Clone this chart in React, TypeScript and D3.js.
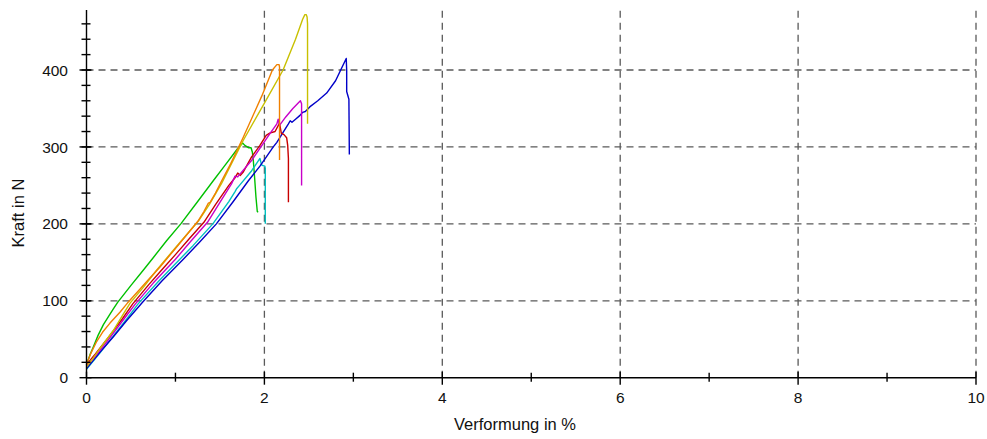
import * as d3 from 'd3';
import React from 'react';

type Pt = [number, number];

// Verformung in % / Kraft in N
const greenCurve: Pt[] = [
  [0, 17], [0.04, 30], [0.08, 41], [0.13, 55], [0.19, 69], [0.25, 80], [0.3, 89],
  [0.35, 98], [0.5, 120], [0.64, 140], [0.75, 156], [0.9, 178], [1.06, 200],
  [1.25, 229], [1.425, 256], [1.55, 275], [1.7, 298], [1.755, 305], [1.78, 302],
  [1.82, 299], [1.85, 299], [1.865, 293], [1.875, 283], [1.89, 260], [1.905, 235],
  [1.92, 216], [1.93, 215],
];
const orangeCurve: Pt[] = [
  [0, 17], [0.05, 32], [0.114, 47], [0.18, 59], [0.264, 71], [0.376, 85], [0.46, 97],
  [0.6, 115], [0.7, 128], [0.826, 144], [1.0, 168], [1.25, 203], [1.32, 216],
  [1.37, 227], [1.39, 228], [1.45, 240], [1.52, 256], [1.62, 278], [1.76, 312],
  [1.97, 366], [2.09, 400], [2.14, 407], [2.165, 407], [2.17, 404], [2.17, 283],
];
const yellowCurve: Pt[] = [
  [0, 14], [0.08, 26], [0.152, 38], [0.3, 61], [0.41, 82], [0.49, 97], [0.65, 119],
  [0.79, 140], [1.0, 169], [1.26, 204], [1.38, 225], [1.52, 253], [1.76, 308],
  [2.005, 358], [2.21, 400], [2.35, 440], [2.43, 466], [2.455, 472], [2.47, 472],
  [2.48, 469], [2.485, 460], [2.485, 330],
];
const redCurve: Pt[] = [
  [0, 17], [0.1, 31], [0.25, 53], [0.4, 76], [0.52, 96], [0.7, 121], [0.86, 142],
  [1.0, 160], [1.15, 180], [1.32, 202], [1.45, 225], [1.6, 250], [1.67, 260],
  [1.7, 266], [1.73, 263], [1.76, 267], [1.856, 287], [1.95, 302], [2.02, 315],
  [2.06, 318], [2.12, 320], [2.17, 331], [2.19, 318], [2.22, 316], [2.25, 312],
  [2.262, 302], [2.27, 285], [2.27, 228],
];
const magentaCurve: Pt[] = [
  [0, 15], [0.1, 28], [0.25, 50], [0.4, 73], [0.55, 96], [0.75, 123], [0.91, 143],
  [1.0, 154], [1.17, 177], [1.36, 202], [1.5, 228], [1.63, 252], [1.67, 262],
  [1.7, 261], [1.72, 264], [1.86, 283], [2.06, 317], [2.14, 330], [2.155, 336],
  [2.17, 328], [2.24, 339], [2.32, 350], [2.38, 357], [2.405, 360], [2.418, 356],
  [2.418, 250],
];
const cyanCurve: Pt[] = [
  [0, 11], [0.15, 32], [0.3, 54], [0.45, 76], [0.58, 96], [0.8, 124], [1.0, 148],
  [1.2, 172], [1.42, 200], [1.6, 229], [1.67, 242], [1.69, 246], [1.72, 250],
  [1.85, 268], [1.95, 285], [1.965, 278], [1.975, 276], [2.005, 275], [2.01, 272],
  [2.01, 200],
];
const blueCurve: Pt[] = [
  [0, 12], [0.15, 33], [0.3, 53], [0.45, 74], [0.63, 98], [0.85, 126], [1.08, 153],
  [1.27, 176], [1.46, 200], [1.65, 229], [1.82, 256], [1.95, 275], [2.1, 300],
  [2.14, 306], [2.21, 319], [2.27, 330], [2.29, 334], [2.31, 332], [2.35, 336],
  [2.4, 341], [2.43, 345], [2.46, 346], [2.51, 352], [2.6, 360], [2.7, 370],
  [2.8, 386], [2.92, 415], [2.925, 400], [2.925, 372], [2.95, 362], [2.955, 290],
];

const series = [
  { name: 'green', color: '#00c000', data: greenCurve },
  { name: 'cyan', color: '#00c0c0', data: cyanCurve },
  { name: 'blue', color: '#0000c8', data: blueCurve },
  { name: 'red', color: '#c80000', data: redCurve },
  { name: 'magenta', color: '#c800c8', data: magentaCurve },
  { name: 'yellow', color: '#c8c000', data: yellowCurve },
  { name: 'orange', color: '#f08000', data: orangeCurve },
];

const xTicks = [0, 1, 2, 3, 4, 5, 6, 7, 8, 9, 10];
const xLabels = [0, 2, 4, 6, 8, 10];
const yLabels = [0, 100, 200, 300, 400];
const yMinor = d3.range(20, 480, 20);

const W = 987;
const H = 439;
const FONT = 'Arial, "Liberation Sans", sans-serif';

const App = () => {
  const x = d3.scaleLinear().domain([0, 10]).range([86.5, 976]);
  const y = d3.scaleLinear().domain([0, 478]).range([377.7, 10]);
  const line = d3
    .line<Pt>()
    .x((d) => x(d[0]))
    .y((d) => y(d[1]));

  const [x0, x1] = x.range();
  const [y0, y1] = y.range();

  return (
    <svg
      width={W}
      height={H}
      style={{ position: 'absolute', left: 0, top: 0, background: 'white' }}
      fontFamily={FONT}
    >
      {/* grid */}
      <g stroke="#5a5a5a" strokeWidth={1.3} strokeDasharray="7,5" fill="none">
        {yLabels.slice(1).map((v) => (
          <line key={'gy' + v} x1={x0} x2={x1} y1={y(v)} y2={y(v)} />
        ))}
        {xLabels.slice(1).map((v) => (
          <line key={'gx' + v} x1={x(v)} x2={x(v)} y1={y0} y2={y1} />
        ))}
      </g>

      {/* curves */}
      <g fill="none" strokeWidth={1.4} strokeLinejoin="round">
        {series.map((s) => (
          <path key={s.name} d={line(s.data) || ''} stroke={s.color} />
        ))}
      </g>

      {/* axes */}
      <g stroke="#000" strokeWidth={1.4}>
        <line x1={x0} x2={x0} y1={y0} y2={y1} />
        <line x1={x0} x2={x1} y1={y0} y2={y0} />
        {yMinor.map((v) => (
          <line key={'ym' + v} x1={x0 - 5} x2={x0 + 4} y1={y(v)} y2={y(v)} />
        ))}
        {yLabels.map((v) => (
          <line key={'yt' + v} x1={x0 - 7} x2={x0 + 5} y1={y(v)} y2={y(v)} />
        ))}
        {xTicks.map((v) => {
          const major = v % 2 === 0;
          return (
            <line
              key={'xt' + v}
              x1={x(v)}
              x2={x(v)}
              y1={y0 - (major ? 6 : 5)}
              y2={y0 + (major ? 7 : 4)}
            />
          );
        })}
      </g>

      <g fontSize={15.5} fill="#111">
        {yLabels.map((v) => (
          <text key={'yl' + v} x={68} y={y(v)} dy="0.36em" textAnchor="end">
            {v}
          </text>
        ))}
        {xLabels.map((v) => (
          <text key={'xl' + v} x={x(v)} y={403} textAnchor="middle">
            {v}
          </text>
        ))}
      </g>

      <text x={515} y={430} textAnchor="middle" fontSize={16.5} fill="#111">
        Verformung in %
      </text>
      <text
        transform="translate(24,213) rotate(-90)"
        textAnchor="middle"
        fontSize={16.5}
        fill="#111"
      >
        Kraft in N
      </text>
    </svg>
  );
};

export default App;
